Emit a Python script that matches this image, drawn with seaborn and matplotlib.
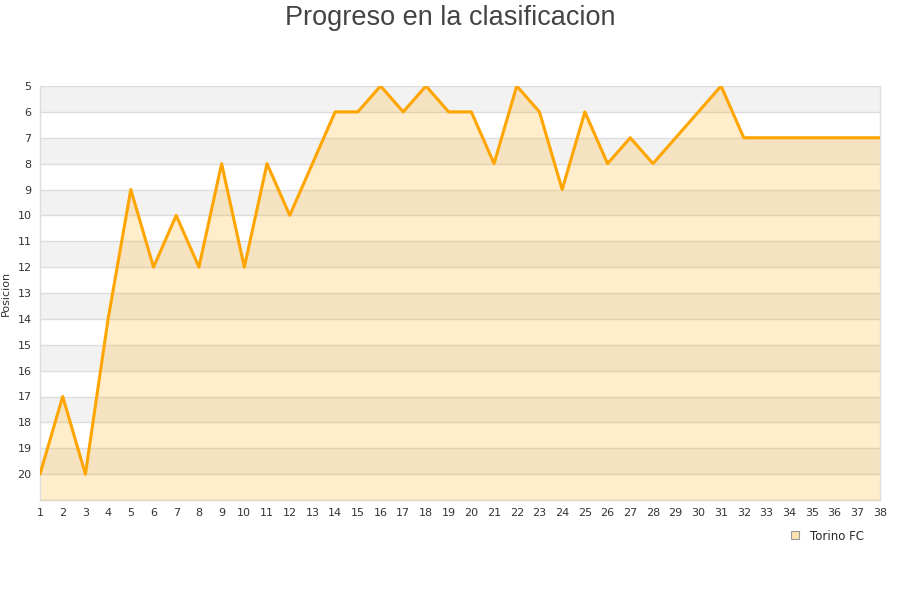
import matplotlib
matplotlib.use("Agg")
import matplotlib.pyplot as plt
from matplotlib.lines import Line2D
import seaborn as sns
import pandas as pd

# Jornadas y posicion del equipo
jornadas = list(range(1, 39))
posicion = [20, 17, 20, 14, 9, 12, 10, 12, 8, 12,
            8, 10, 8, 6, 6, 5, 6, 5, 6, 6,
            8, 5, 6, 9, 6, 8, 7, 8, 7, 6,
            5, 7, 7, 7, 7, 7, 7, 7]
equipo = "Torino FC"

df = pd.DataFrame({"jornada": jornadas, "posicion": posicion})

sns.set_theme(style="white")
plt.rcParams["font.family"] = ["DejaVu Sans"]

fig = plt.figure(figsize=(9, 6), dpi=100)
ax = fig.add_axes([40 / 900, 100 / 600, 840 / 900, 414 / 600])

# bandas alternas de fondo
for y0 in range(5, 21, 2):
    ax.axhspan(y0, y0 + 1, color="#f2f2f2", zorder=0, lw=0)
for y in range(5, 22):
    ax.axhline(y, color="#dddddd", lw=1, zorder=1)

ax.fill_between(df["jornada"], df["posicion"], 21, color="#FFA500", alpha=0.2, lw=0, zorder=2)
sns.lineplot(data=df, x="jornada", y="posicion", color="#FFA500", lw=2.2, ax=ax, zorder=3)

ax.set_xlim(1, 38)
ax.set_ylim(21, 5)
ax.set_xticks(jornadas)
ax.set_yticks(range(5, 21))
ax.tick_params(axis="both", labelsize=8, colors="#333333", length=0, pad=6)
ax.set_xlabel("")
ax.set_ylabel("Posicion", fontsize=8, color="#333333")
ax.yaxis.set_label_coords(-29 / 840, 0.5)

for side in ["top", "bottom"]:
    ax.spines[side].set_visible(False)
for side in ["left", "right"]:
    ax.spines[side].set_color("#dddddd")
    ax.spines[side].set_linewidth(1)
ax.axhline(21, color="#dddddd", lw=1, zorder=1, clip_on=False)

fig.suptitle("Progreso en la clasificacion", fontsize=19.5, color="#444444",
             family=["Liberation Sans", "DejaVu Sans"], y=0.992)

handle = Line2D([], [], marker="s", ls="none", markersize=6,
                markerfacecolor="#ffe3b0", markeredgecolor="#999999", markeredgewidth=0.8)
fig.legend([handle], [equipo], loc="center left", bbox_to_anchor=(783 / 900, 1 - 536 / 600),
           frameon=False, fontsize=8.5, handletextpad=0.3, borderaxespad=0, borderpad=0)

fig.savefig("out.png", dpi=100)
